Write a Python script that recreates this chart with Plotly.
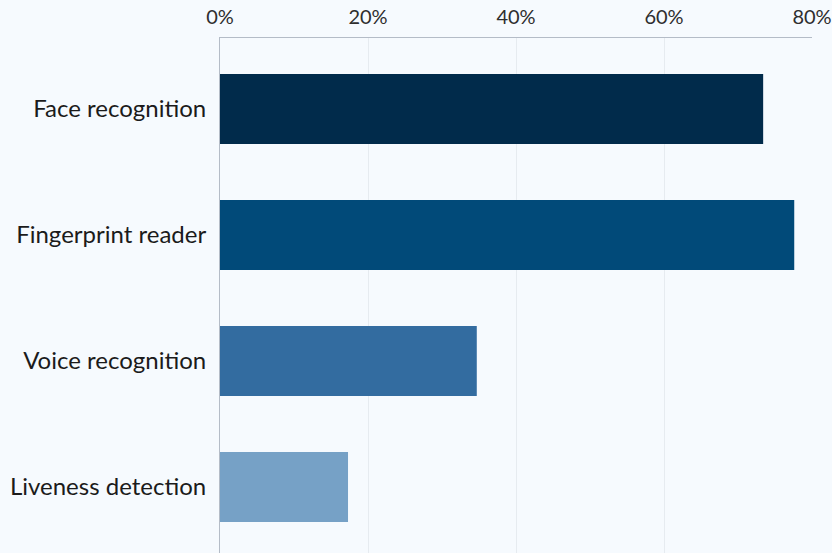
import plotly.graph_objects as go

# Share of respondents using each biometric method
methods = ["Face recognition", "Fingerprint reader", "Voice recognition", "Liveness detection"]
shares = [73.4, 77.6, 34.7, 17.3]
bar_colors = ["#012b4b", "#014a79", "#336ca0", "#76a1c6"]
tick_values = [0, 20, 40, 60, 80]
tick_labels = ["0%", "20%", "40%", "60%", "80%"]

positions = list(range(len(methods)))

fig = go.Figure(
    go.Bar(
        x=shares,
        y=positions,
        orientation="h",
        marker=dict(color=bar_colors, line=dict(width=0)),
        width=0.555,
        hoverinfo="skip",
    )
)

fig.update_layout(
    width=832,
    height=553,
    margin=dict(l=220, r=17, t=38, b=0),
    paper_bgcolor="#f6fafe",
    plot_bgcolor="#f6fafe",
    showlegend=False,
    font=dict(family="Lato, 'Open Sans', sans-serif", color="#1b1b1b"),
)

fig.update_xaxes(
    side="top",
    range=[0, 80],
    tickvals=tick_values,
    ticktext=tick_labels,
    tickfont=dict(size=20, color="#2e2e2e"),
    ticklabeloverflow="allow",
    showgrid=True,
    gridcolor="#e6ebf0",
    gridwidth=1,
    showline=True,
    linecolor="#b4bcc7",
    linewidth=1,
    zeroline=False,
    ticks="",
    ticklabelstandoff=5,
)

fig.update_yaxes(
    range=[3.524, -0.563],
    tickvals=positions,
    ticktext=methods,
    tickfont=dict(size=24, color="#1b1b1b"),
    showgrid=False,
    showline=True,
    linecolor="#b4bcc7",
    linewidth=1,
    zeroline=False,
    ticks="",
    ticklabelstandoff=8,
)

fig.write_html("out.html")
